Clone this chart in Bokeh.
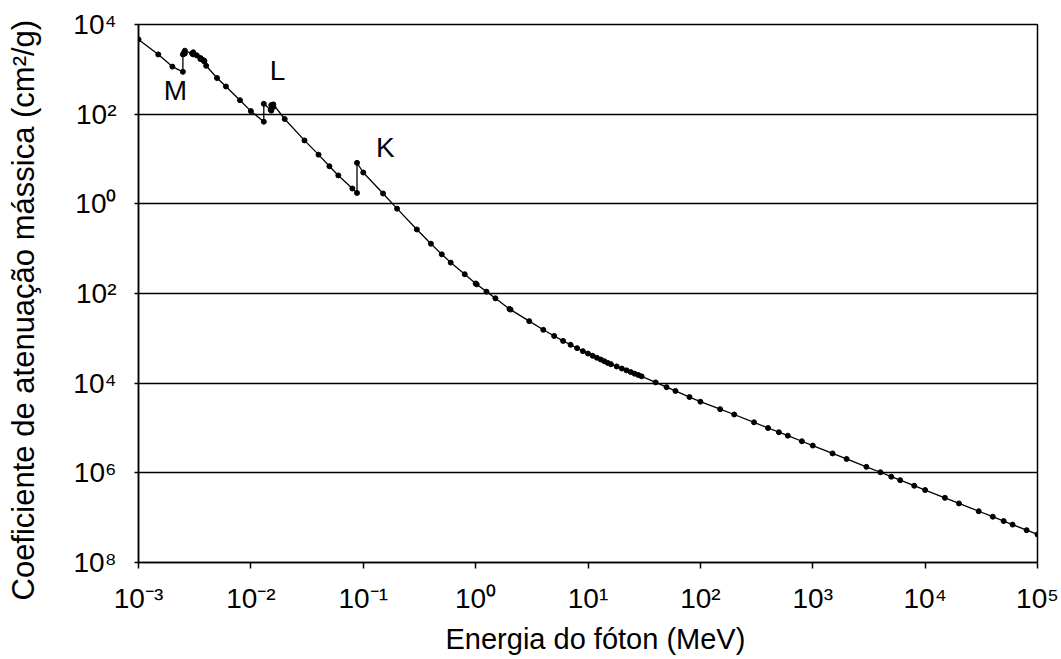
from bokeh.plotting import figure
from bokeh.layouts import row
from bokeh.models import FixedTicker, ColumnDataSource, Title
from bokeh.core.properties import value
from bokeh.embed import file_html
from bokeh.resources import INLINE

# Photon energy (MeV) and mass attenuation coefficient (cm^2/g) for lead.
# Repeated energies mark absorption edges (value below, then above the edge).
energy_mev = [
    1.0e-3, 1.5e-3, 2.0e-3, 2.484e-3, 2.484e-3, 2.535e-3, 2.586e-3, 2.586e-3,
    3.0e-3, 3.066e-3, 3.066e-3, 3.301e-3, 3.554e-3, 3.554e-3, 3.699e-3,
    3.851e-3, 3.851e-3, 4.0e-3, 5.0e-3, 6.0e-3, 8.0e-3, 1.0e-2,
    1.3035e-2, 1.3035e-2, 1.5e-2, 1.52e-2, 1.52e-2, 1.553e-2, 1.586e-2, 1.586e-2,
    2.0e-2, 3.0e-2, 4.0e-2, 5.0e-2, 6.0e-2, 8.0e-2, 8.8e-2, 8.8e-2,
    0.1, 0.15, 0.2, 0.3, 0.4, 0.5, 0.6, 0.8,
    1.0, 1.022, 1.25, 1.5, 2.0, 2.044, 3.0, 4.0, 5.0, 6.0, 7.0, 8.0, 9.0,
    10, 11, 12, 13, 14, 15, 16, 18, 20, 22, 24, 26, 28, 30,
    40, 50, 60, 80, 100, 150, 200, 300, 400, 500, 600, 800,
    1e3, 1.5e3, 2e3, 3e3, 4e3, 5e3, 6e3, 8e3,
    1e4, 1.5e4, 2e4, 3e4, 4e4, 5e4, 6e4, 8e4, 1e5,
]
mass_atten = [
    4650, 2150, 1150, 880, 2150, 2350, 2250, 2600,
    2250, 2150, 2400, 2050, 1700, 1800, 1650,
    1500, 1560, 1200, 640, 415, 205, 117,
    68, 170, 125, 120, 160, 152, 145, 165,
    78, 26, 12.5, 6.9, 4.3, 2.2, 1.75, 8.2,
    5.0, 1.7, 0.78, 0.268, 0.129, 0.0747, 0.0489, 0.0269,
    0.0167, 0.0160, 0.0110, 0.0078, 0.00453, 0.00438, 0.00242, 0.00155,
    0.00113, 0.000877, 0.000718, 0.000604, 0.000518,
    0.000457, 0.000408, 0.000369, 0.000336, 0.000308, 0.000283, 0.000265,
    0.000236, 0.000212, 0.000193, 0.000177, 0.000163, 0.000152, 0.000142,
    0.000104, 8.15e-5, 6.7e-5, 4.9e-5, 3.86e-5, 2.63e-5, 2.0e-5, 1.34e-5,
    1.0e-5, 8.05e-6, 6.73e-6, 5.06e-6,
    4.06e-6, 2.71e-6, 2.04e-6, 1.36e-6, 1.03e-6, 8.2e-7, 6.86e-7, 5.16e-7,
    4.13e-7, 2.77e-7, 2.08e-7, 1.39e-7, 1.05e-7, 8.4e-8, 7.0e-8, 5.26e-8, 4.22e-8,
]

# Axis ticks and their labels
x_ticks = [1e-3, 1e-2, 1e-1, 1e0, 1e1, 1e2, 1e3, 1e4, 1e5]
x_tick_labels = ["10⁻³", "10⁻²", "10⁻¹", "10⁰", "10¹", "10²", "10³", "10⁴", "10⁵"]
y_ticks = [1e-8, 1e-6, 1e-4, 1e-2, 1e0, 1e2, 1e4]
y_tick_labels = ["10⁸", "10⁶", "10⁴", "10²", "10⁰", "10²", "10⁴"]

x_title = "Energia do fóton (MeV)"
y_title = "Coeficiente de atenuação mássica (cm²/g)"

# Shell-edge annotations
edge_names = ["M", "L", "K"]
edge_x = [2.13e-3, 1.73e-2, 0.157]
edge_y = [340, 950, 18.5]

FONT = "Liberation Sans"
H = 659
SIDE_W = 60
TOP, BOTTOM = 24, 96

# Narrow strip on the left whose side panel carries the vertical axis title
side = figure(
    width=SIDE_W, height=H, x_range=(0, 1), y_range=(0, 1),
    x_axis_location=None, y_axis_location=None,
    output_backend="svg", toolbar_location=None,
    min_border_left=41, min_border_right=0,
    min_border_top=TOP, min_border_bottom=BOTTOM,
)
side.grid.visible = False
side.outline_line_color = None
side.background_fill_color = "white"
side.border_fill_color = "white"
side.add_layout(Title(text=y_title, align="left", offset=-38, standoff=2,
                      vertical_align="bottom",
                      text_font=FONT, text_font_size="31px",
                      text_font_style="normal", text_color="black"), "left")

p = figure(
    width=1061 - SIDE_W, height=H,
    x_axis_type="log", y_axis_type="log",
    x_range=(1e-3, 1e5), y_range=(1e-8, 1e4),
    output_backend="svg", toolbar_location=None,
    min_border_left=138 - SIDE_W, min_border_right=24,
    min_border_top=TOP, min_border_bottom=BOTTOM,
)
p.background_fill_color = "white"
p.border_fill_color = "white"
p.outline_line_color = "black"
p.outline_line_width = 1.5

p.xgrid.visible = False
p.ygrid.grid_line_color = "black"
p.ygrid.grid_line_width = 1.5
p.ygrid.ticker = FixedTicker(ticks=y_ticks)

p.xaxis.ticker = FixedTicker(ticks=x_ticks)
p.yaxis.ticker = FixedTicker(ticks=y_ticks)
p.xaxis.major_label_overrides = dict(zip(x_ticks, x_tick_labels))
p.yaxis.major_label_overrides = dict(zip(y_ticks, y_tick_labels))

for ax in (p.xaxis, p.yaxis):
    ax.axis_line_color = "black"
    ax.axis_line_width = 1.5
    ax.major_tick_line_color = "black"
    ax.major_tick_line_width = 1.5
    ax.minor_tick_line_color = None
    ax.major_label_text_font = FONT
    ax.major_label_text_font_size = "28px"
    ax.major_label_text_color = "black"

p.xaxis.major_tick_in = 0
p.xaxis.major_tick_out = 6
p.yaxis.major_tick_in = 0
p.yaxis.major_tick_out = 4
p.xaxis.major_label_standoff = 14
p.yaxis.major_label_standoff = 18

src = ColumnDataSource(dict(e=energy_mev, mu=mass_atten))
p.line("e", "mu", source=src, line_color="black", line_width=1.3)
p.scatter("e", "mu", source=src, size=5, marker="circle",
          fill_color="black", line_color="black")

p.text(x=edge_x, y=edge_y, text=edge_names, text_font=value(FONT),
       text_font_size="28px", text_color="black",
       text_align="center", text_baseline="middle")

# Horizontal axis title, offset along the frame
p.add_layout(Title(text=x_title, align="left", offset=307, standoff=9,
                   text_font=FONT, text_font_size="29px",
                   text_font_style="normal", text_color="black"), "below")

layout = row(side, p, spacing=0)
open("out.html", "w").write(file_html(layout, INLINE))
